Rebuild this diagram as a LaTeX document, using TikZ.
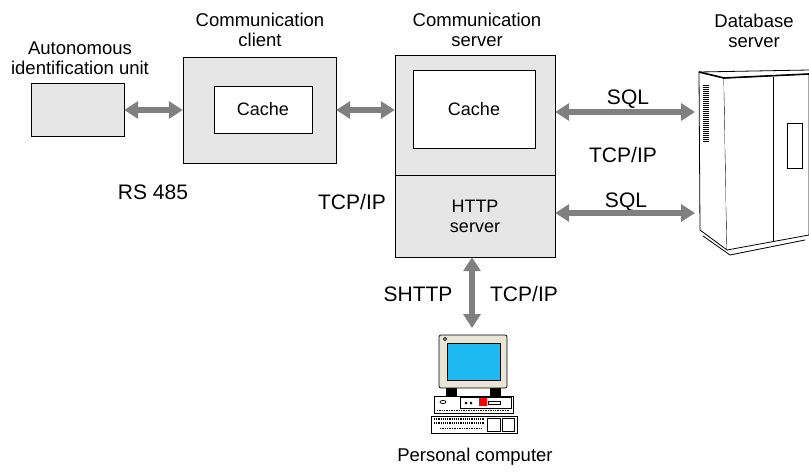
\documentclass[tikz,border=0pt]{standalone}
\usepackage{fontspec}
\setmainfont{Liberation Sans}
\usetikzlibrary{arrows.meta, positioning}

\definecolor{boxgray}{RGB}{230,230,230}
\definecolor{linkgray}{RGB}{128,128,128}
\definecolor{screenblue}{RGB}{30,185,240}
\definecolor{casebeige}{RGB}{232,228,214}

\begin{document}
\begin{tikzpicture}[x=1pt, y=-1pt,
  box/.style={rectangle, draw, fill=boxgray, inner sep=0pt, font=\fontsize{18}{20}\selectfont, align=center},
  cachebox/.style={rectangle, draw, fill=white, inner sep=0pt, font=\fontsize{18}{20}\selectfont},
  link/.style={{Triangle[length=14pt,width=17pt]}-{Triangle[length=14pt,width=17pt]}, draw=linkgray, line width=6pt},
  lbl/.style={font=\fontsize{18.5}{20}\selectfont, align=center, inner sep=0pt},
  proto/.style={font=\fontsize{21}{24}\selectfont, inner sep=0pt}
]
  \useasboundingbox (0,0) rectangle (809,472);

  % units on the left
  \node[box, minimum width=93pt, minimum height=53pt] (unit) at (77.5,109.5) {};
  \node[box, minimum width=153pt, minimum height=106pt] (client) at (259.5,110) {};
  \node[cachebox, minimum width=98pt, minimum height=47pt] (clientcache) at (263,109.5) {Cache};

  % communication server, cache on top and http part below
  \node[box, minimum width=160pt, minimum height=120pt] (server) at (475,115) {};
  \node[cachebox, minimum width=122pt, minimum height=78pt] (servercache) at (474,109) {Cache};
  \node[box, minimum width=160pt, minimum height=82pt] (http) at (475,216) {HTTP\\server};

  % database server cabinet
  \node[minimum width=110pt, minimum height=178pt, inner sep=0pt] (db) at (754,161) {};
  \begin{scope}[line width=0.8pt]
    \draw[fill=white] (699,72) -- (724,78) -- (727,250) -- (700,230) -- cycle;
    \draw[fill=white] (724,78) -- (809,74) -- (809,235) -- (727,250);
    \draw[line width=1.6pt] (699,72) -- (724,78) -- (809,74);
    \draw (699,72) -- (809,70);
    \draw (773,77) -- (773,242);
    \draw (787,123) rectangle (802,168);
    \draw (703,236) -- (730,255) -- (805,240);
    \foreach \i in {0,...,28}
      \draw[line width=0.6pt] (703,85+2*\i) -- (709,85+2*\i);
  \end{scope}
  \coordinate (sqltop) at (695,112);
  \coordinate (sqlbot) at (695,213);

  % personal computer
  \coordinate (pc) at (472,328);
  \begin{scope}[line width=0.7pt]
    \draw[fill=black] (446,388) rectangle (456,396);
    \draw[fill=black] (490,388) rectangle (500,396);
    \draw[fill=casebeige, rounded corners=2pt] (439,335) rectangle (507,388);
    \draw[fill=screenblue, line width=1pt] (447,343) rectangle (500,380);
    \draw (445,339) circle (1.6pt);
    \draw[fill=white] (434,396) rectangle (513,413);
    \draw (443,402) ellipse (3pt and 1.6pt);
    \draw (460,397) rectangle (511,408);
    \draw[fill=red, draw=red] (479,398) rectangle (486,405);
    \draw[fill=black] (466,403) circle (1pt) (471,403) circle (1pt);
    \draw (488,401) rectangle (500,404);
    \draw[densely dotted] (437,410) -- (510,410);
    \draw[fill=white] (431,416) rectangle (517,433);
    \foreach \r in {419,423}
      \draw[densely dotted, line width=1.2pt] (434,\r) -- (484,\r);
    \draw[densely dotted] (440,428) -- (482,428);
    \draw (487,418) rectangle (500,431) (502,418) rectangle (514,431);
  \end{scope}

  % labels
  \node[lbl] (unitlbl) at (80,58) {Autonomous\\identification unit};
  \node[lbl] (clientlbl) at (260,30) {Communication\\client};
  \node[lbl] (serverlbl) at (477,30) {Communication\\server};
  \node[lbl] (dblbl) at (754,31) {Database\\server};
  \node[lbl] (pclbl) at (475,457) {Personal computer};
  \node[proto] (rs) at (153,192) {RS 485};
  \node[proto] (tcpa) at (352,202) {TCP/IP};
  \node[proto] (sqla) at (628,99) {SQL};
  \node[proto] (tcpb) at (623,155) {TCP/IP};
  \node[proto] (sqlb) at (626,202) {SQL};
  \node[proto] (shttp) at (418,294) {SHTTP};
  \node[proto] (tcpc) at (524,294) {TCP/IP};

  % connections
  \draw[link] (unit.east |- 0,110) -- (client.west |- 0,110);
  \draw[link] (client.east |- 0,110) -- (server.west |- 0,110);
  \draw[link] (sqltop -| server.east) -- (sqltop);
  \draw[link] (sqlbot -| http.east) -- (sqlbot);
  \draw[link] (pc |- http.south) -- (pc);
\end{tikzpicture}
\end{document}
